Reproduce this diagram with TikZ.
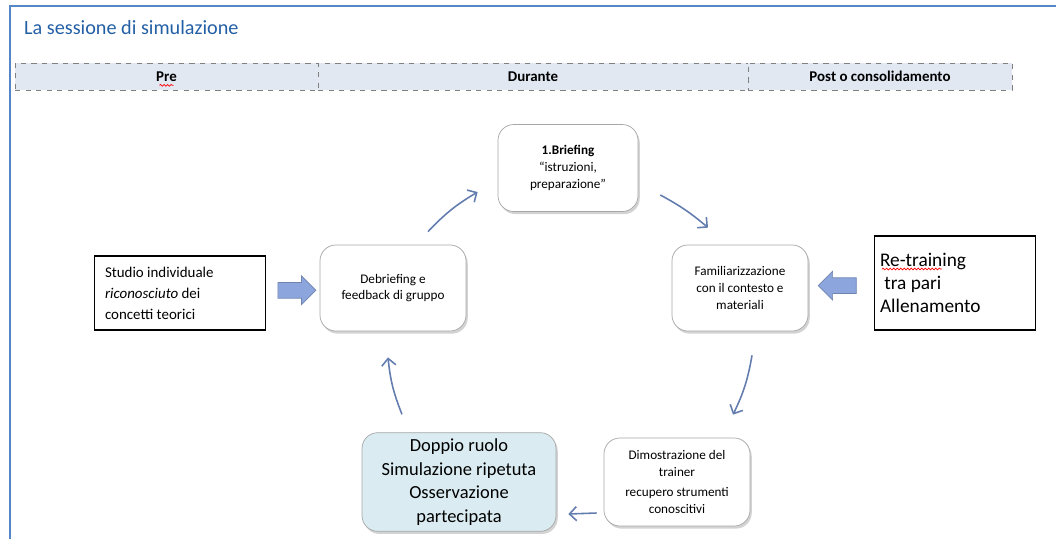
\documentclass[tikz,border=0pt]{standalone}
\usepackage{fontspec}
\setmainfont{Carlito}
\usetikzlibrary{positioning,calc,shadows,shapes.arrows,arrows.meta,decorations.pathmorphing}

\definecolor{framecol}{RGB}{85,135,200}
\definecolor{titlecol}{RGB}{35,95,165}
\definecolor{barfill}{RGB}{226,232,242}
\definecolor{cyccol}{RGB}{100,125,175}
\definecolor{blockcol}{RGB}{140,165,220}
\definecolor{dopfill}{RGB}{218,236,242}

\tikzset{
  stepbox/.style={draw=gray!70,rounded corners=9pt,fill=white,align=center,
    drop shadow={shadow xshift=1pt,shadow yshift=-1.5pt,opacity=0.35},
    font=\fontsize{7.5}{9.5}\selectfont},
  sidebox/.style={draw=black,thick,fill=white,align=flush left,inner xsep=6pt},
  phase/.style={draw=gray,dashed,fill=barfill,minimum height=27*0.02cm,
    font=\bfseries\fontsize{8.5}{10}\selectfont},
  cyc/.style={-{Straight Barb[length=4pt,width=8pt]},draw=cyccol,line width=0.9pt},
  blockarrow/.style={single arrow,draw=blockcol!80!black,fill=blockcol,
    minimum height=38*0.02cm,inner sep=0.15cm,single arrow head extend=0.13cm}
}

\begin{document}
\begin{tikzpicture}[x=0.02cm,y=-0.02cm]
\useasboundingbox (0,0) rectangle (1056,539);
% frame
\draw[framecol,line width=1.5pt] (10,539) -- (10,6) -- (1056,6);
\node[anchor=west,text=titlecol,font=\fontsize{11.5}{13}\selectfont] (title) at (18,28) {La sessione di simulazione};

% phases
\begin{scope}[every node/.style={phase}]
  \node[minimum width=303*0.02cm] (pre) at (166.5,76.5) {Pre};
  \node[minimum width=430*0.02cm] (dur) at (533,76.5) {Durante};
  \node[minimum width=264*0.02cm] (post) at (880,76.5) {Post o consolidamento};
\end{scope}
\draw[red,decorate,decoration={snake,amplitude=0.5pt,segment length=2pt}] ([yshift=-5pt]pre.center) ++(-7,0) -- ++(14,0);

% cycle
\begin{scope}[every node/.style={stepbox}]
  \node[minimum width=140*0.02cm,minimum height=87*0.02cm] (brief) at (568,168)
    {\textbf{1.Briefing}\\ ``istruzioni,\\ preparazione''};
  \node[minimum width=136*0.02cm,minimum height=86*0.02cm] (fam) at (740,288)
    {Familiarizzazione\\ con il contesto e\\ materiali};
  \node[minimum width=146*0.02cm,minimum height=88*0.02cm] (dim) at (677,482)
    {Dimostrazione del\\ trainer\\[2pt] recupero strumenti\\ conoscitivi};
  \node[minimum width=194*0.02cm,minimum height=92*0.02cm,fill=dopfill,
    font=\fontsize{10.5}{13.5}\selectfont] (dop) at (459,482)
    {Doppio ruolo\\ Simulazione ripetuta\\ Osservazione\\ partecipata};
  \node[minimum width=146*0.02cm,minimum height=86*0.02cm] (deb) at (393,288)
    {Debriefing e\\ feedback di gruppo};
\end{scope}

\begin{scope}[every node/.style={sidebox}]
  \node[text width=150*0.02cm,minimum height=74*0.02cm,
    font=\fontsize{8.5}{12}\selectfont] (studio) at (180,293)
    {Studio individuale\\ \textit{riconosciuto} dei\\ concetti teorici};
  \node[text width=150*0.02cm,minimum height=94*0.02cm,inner xsep=3pt,
    font=\fontsize{11}{13}\selectfont] (retr) at (955,283)
    {Re-training\\ \ tra pari\\ Allenamento};
\end{scope}
\draw[red,decorate,decoration={snake,amplitude=0.5pt,segment length=2pt}] (882,269) -- (942,269);

\path (studio) -- (deb) node[blockarrow,pos=0.5] (inarr) {};
\path (retr) -- (fam) node[blockarrow,pos=0.5,shape border rotate=180] (backarr) {};

\draw[cyc] ($(deb.north)+(35,-13)$) to[bend left=8] ($(brief.west)+(-20,24)$);
\draw[cyc] ($(brief.east)+(22,27)$) to[bend left=6] ($(fam.north)+(-32,-17)$);
\draw[cyc] ($(fam.south)+(12,24)$) to[bend left=8] ($(dim.north)+(56,-23)$);
\draw[cyc] ($(dim.west)+(-7,31)$) -- ($(dop.east)+(12,32)$);
\draw[cyc] ($(dop.north)+(-57,-18)$) to[bend left=8] ($(deb.south)+(-5,26)$);
\end{tikzpicture}
\end{document}
